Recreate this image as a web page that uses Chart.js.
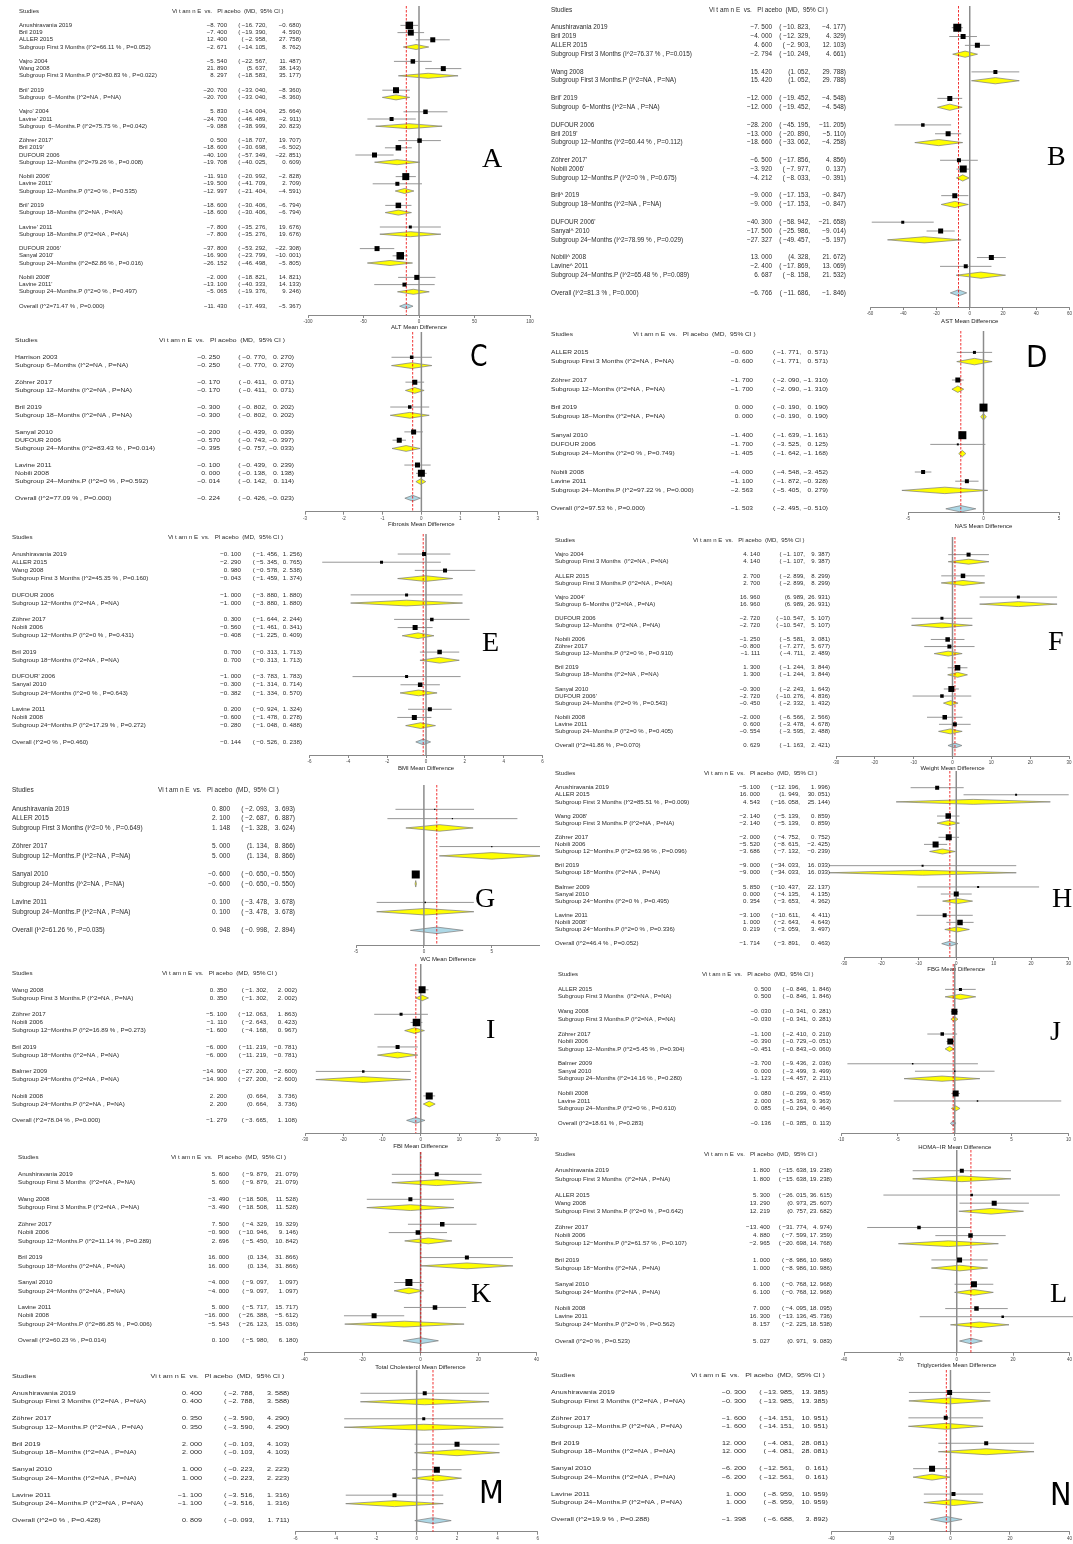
<!DOCTYPE html>
<html><head><meta charset="utf-8">
<script src="https://cdn.jsdelivr.net/npm/chart.js@4.4.1/dist/chart.umd.min.js"></script>
<style>
html,body{margin:0;padding:0;background:#fff;}
body{width:1073px;height:1544px;position:relative;overflow:hidden;}
</style></head><body>
<script>
// ===================== DATA =====================
// Panel A – ALT
const labelsA = ['Anushiravania 2019','Bril 2019','ALLER 2015','Subgroup First 3 Months (I^2=66.11 % , P=0.052)','Vajro 2004','Wang 2008','Subgroup First 3 Months.P (I^2=80.83 % , P=0.022)',"Bril' 2019",'Subgroup  6−Months (I^2=NA , P=NA)',"Vajro' 2004","Lavine' 2011",'Subgroup  6−Months.P (I^2=75.75 % , P=0.042)',"Zöhrer 2017'","Bril 2019'",'DUFOUR 2006','Subgroup 12−Months (I^2=79.26 % , P=0.008)',"Nobili 2006'","Lavine 2011'",'Subgroup 12−Months.P (I^2=0 % , P=0.535)',"Bril' 2019",'Subgroup 18−Months (I^2=NA , P=NA)',"Lavine' 2011",'Subgroup 18−Months.P (I^2=NA , P=NA)',"DUFOUR 2006'","Sanyal 2010'",'Subgroup 24−Months (I^2=82.86 % , P=0.016)',"Nobili 2008'","Lavine 2011'",'Subgroup 24−Months.P (I^2=0 % , P=0.497)','Overall (I^2=71.47 % , P=0.000)'];
const estA = [-8.7,-7.4,12.4,-2.671,-5.54,21.89,8.297,-20.7,-20.7,5.83,-24.7,-9.088,0.5,-18.6,-40.1,-19.708,-11.91,-19.5,-12.997,-18.6,-18.6,-7.8,-7.8,-37.8,-16.9,-26.152,-2,-13.1,-5.065,-11.43];
const lowA = [-16.72,-19.39,-2.958,-14.105,-22.567,5.637,-18.583,-33.04,-33.04,-14.004,-46.489,-38.999,-18.707,-30.698,-57.349,-40.025,-20.992,-41.709,-21.404,-30.406,-30.406,-35.276,-35.276,-53.292,-23.799,-46.498,-18.821,-40.333,-19.376,-17.493];
const highA = [-0.68,4.59,27.758,8.762,11.487,38.143,35.177,-8.36,-8.36,25.664,-2.911,20.823,19.707,-6.502,-22.851,0.609,-2.828,2.709,-4.591,-6.794,-6.794,19.676,19.676,-22.308,-10.001,-5.805,14.821,14.133,9.246,-5.367];
const weightA = [7.5,6,5,0,4.5,5,0,6,0,4.5,4,0,4.5,5.5,5,0,7,4,0,5.5,0,3,0,5,7.5,0,5,4,0,0];
const ticksA = [-100,-50,0,50,100];

// Panel B – AST
const labelsB = ['Anushiravania 2019','Bril 2019','ALLER 2015','Subgroup First 3 Months (I^2=76.37 % , P=0.015)','Wang 2008','Subgroup First 3 Months.P (I^2=NA , P=NA)',"Bril' 2019",'Subgroup  6−Months (I^2=NA , P=NA)','DUFOUR 2006',"Bril 2019'",'Subgroup 12−Months (I^2=60.44 % , P=0.112)',"Zöhrer 2017'","Nobili 2006'",'Subgroup 12−Months.P (I^2=0 % , P=0.675)','Bril^ 2019','Subgroup 18−Months (I^2=NA , P=NA)',"DUFOUR 2006'",'Sanyal^ 2010','Subgroup 24−Months (I^2=78.99 % , P=0.029)','Nobili^ 2008','Lavine^ 2011','Subgroup 24−Months.P (I^2=65.48 % , P=0.089)','Overall (I^2=81.3 % , P=0.000)'];
const estB = [-7.5,-4,4.6,-2.794,15.42,15.42,-12,-12,-28.2,-13,-18.66,-6.5,-3.92,-4.212,-9,-9,-40.3,-17.5,-27.327,13,-2.4,6.687,-6.766];
const lowB = [-10.823,-12.329,-2.903,-10.249,1.052,1.052,-19.452,-19.452,-45.195,-20.89,-33.062,-17.856,-7.977,-8.033,-17.153,-17.153,-58.942,-25.986,-49.457,4.328,-17.869,-8.158,-11.686];
const highB = [-4.177,4.329,12.103,4.661,29.788,29.788,-4.548,-4.548,-11.205,-5.11,-4.258,4.856,0.137,-0.391,-0.847,-0.847,-21.658,-9.014,-5.197,21.672,13.069,21.532,-1.846];
const weightB = [8,5,5,0,4,0,5,0,3.5,5,0,4,7,0,5,0,3,5,0,5,4,0,0];
const ticksB = [-60,-40,-20,0,20,40,60];

// Panel C – Fibrosis
const labelsC = ['Harrison 2003','Subgroup 6−Months (I^2=NA , P=NA)','Zöhrer 2017','Subgroup 12−Months (I^2=NA , P=NA)','Bril 2019','Subgroup 18−Months (I^2=NA , P=NA)','Sanyal 2010','DUFOUR 2006','Subgroup 24−Months (I^2=83.43 % , P=0.014)','Lavine 2011','Nobili 2008','Subgroup 24−Months.P (I^2=0 % , P=0.592)','Overall (I^2=77.09 % , P=0.000)'];
const estC = [-0.25,-0.25,-0.17,-0.17,-0.3,-0.3,-0.2,-0.57,-0.395,-0.1,0,-0.014,-0.224];
const lowC = [-0.77,-0.77,-0.411,-0.411,-0.802,-0.802,-0.439,-0.743,-0.757,-0.439,-0.138,-0.142,-0.426];
const highC = [0.27,0.27,0.071,0.071,0.202,0.202,0.039,-0.397,-0.033,0.239,0.138,0.114,-0.023];
const weightC = [3.5,0,5,0,3.5,0,5,5,0,5,7,0,0];
const ticksC = [-3,-2,-1,0,1,2,3];

// Panel D – NAS
const labelsD = ['ALLER 2015','Subgroup First 3 Months (I^2=NA , P=NA)','Zöhrer 2017','Subgroup 12−Months (I^2=NA , P=NA)','Bril 2019','Subgroup 18−Months (I^2=NA , P=NA)','Sanyal 2010','DUFOUR 2006','Subgroup 24−Months (I^2=0 % , P=0.749)','Nobili 2008','Lavine 2011','Subgroup 24−Months.P (I^2=97.22 % , P=0.000)','Overall (I^2=97.53 % , P=0.000)'];
const estD = [-0.6,-0.6,-1.7,-1.7,0,0,-1.4,-1.7,-1.405,-4,-1.1,-2.563,-1.503];
const lowD = [-1.771,-1.771,-2.09,-2.09,-0.19,-0.19,-1.639,-3.525,-1.642,-4.548,-1.872,-5.405,-2.495];
const highD = [0.571,0.571,-1.31,-1.31,0.19,0.19,-1.161,0.125,-1.168,-3.452,-0.328,0.279,-0.51];
const weightD = [3,0,5,0,8,0,8,2,0,4,4,0,0];
const ticksD = [-5,0,5];

// Panel E – BMI
const labelsE = ['Anushiravania 2019','ALLER 2015','Wang 2008','Subgroup First 3 Months (I^2=45.35 % , P=0.160)','DUFOUR 2006','Subgroup 12−Months (I^2=NA , P=NA)','Zöhrer 2017','Nobili 2006','Subgroup 12−Months.P (I^2=0 % , P=0.431)','Bril 2019','Subgroup 18−Months (I^2=NA , P=NA)',"DUFOUR' 2006",'Sanyal 2010','Subgroup 24−Months (I^2=0 % , P=0.643)','Lavine 2011','Nobili 2008','Subgroup 24−Months.P (I^2=17.29 % , P=0.272)','Overall (I^2=0 % , P=0.460)'];
const estE = [-0.1,-2.29,0.98,-0.043,-1,-1,0.3,-0.56,-0.408,0.7,0.7,-1,-0.3,-0.382,0.2,-0.6,-0.28,-0.144];
const lowE = [-1.456,-5.345,-0.578,-1.459,-3.88,-3.88,-1.644,-1.461,-1.225,-0.313,-0.313,-3.783,-1.314,-1.334,-0.924,-1.478,-1.048,-0.526];
const highE = [1.256,0.765,2.538,1.374,1.88,1.88,2.244,0.341,0.409,1.713,1.713,1.783,0.714,0.57,1.324,0.278,0.488,0.238];
const weightE = [4,3,4,0,3,0,3.5,5,0,4.5,0,3,4.5,0,4,5,0,0];
const ticksE = [-6,-4,-2,0,2,4,6];

// Panel F – Weight
const labelsF = ['Vajro 2004','Subgroup First 3 Months  (I^2=NA , P=NA)','ALLER 2015','Subgroup First 3 Months.P (I^2=NA , P=NA)',"Vajro 2004'",'Subgroup 6−Months (I^2=NA , P=NA)','DUFOUR 2006','Subgroup 12−Months  (I^2=NA , P=NA)','Nobili 2006','Zöhrer 2017','Subgroup 12−Months.P (I^2=0 % , P=0.910)','Bril 2019','Subgroup 18−Months (I^2=NA , P=NA)','Sanyal 2010',"DUFOUR 2006'",'Subgroup 24−Months (I^2=0 % , P=0.543)','Nobili 2008','Lavine 2011','Subgroup 24−Months.P (I^2=0 % , P=0.405)','Overall (I^2=41.86 % , P=0.070)'];
const estF = [4.14,4.14,2.7,2.7,16.96,16.96,-2.72,-2.72,-1.25,-0.8,-1.111,1.3,1.3,-0.3,-2.72,-0.45,-2,0.6,-0.554,0.629];
const lowF = [-1.107,-1.107,-2.899,-2.899,6.989,6.989,-10.547,-10.547,-5.581,-7.277,-4.711,-1.244,-1.244,-2.243,-10.276,-2.332,-6.566,-3.478,-3.595,-1.163];
const highF = [9.387,9.387,8.299,8.299,26.931,26.931,5.107,5.107,3.081,5.677,2.489,3.844,3.844,1.643,4.836,1.432,2.566,4.678,2.488,2.421];
const weightF = [4,0,4.5,0,3,0,3,0,4.5,4,0,5.5,0,6,3.5,0,4.5,4,0,0];
const ticksF = [-30,-20,-10,0,10,20,30];

// Panel G – WC
const labelsG = ['Anushiravania 2019','ALLER 2015','Subgroup First 3 Months (I^2=0 % , P=0.649)','Zöhrer 2017','Subgroup 12−Months.P (I^2=NA , P=NA)','Sanyal 2010','Subgroup 24−Months (I^2=NA , P=NA)','Lavine 2011','Subgroup 24−Months.P (I^2=NA , P=NA)','Overall (I^2=61.26 % , P=0.035)'];
const estG = [0.8,2.1,1.148,5,5,-0.6,-0.6,0.1,0.1,0.948];
const lowG = [-2.093,-2.687,-1.328,1.134,1.134,-0.65,-0.65,-3.478,-3.478,-0.998];
const highG = [3.693,6.887,3.624,8.866,8.866,-0.55,-0.55,3.678,3.678,2.894];
const weightG = [1.2,1.2,0,1.2,0,8,0,1.5,0,0];
const ticksG = [-5,0,5];

// Panel H – FBG
const labelsH = ['Anushiravania 2019','ALLER 2015','Subgroup First 3 Months (I^2=85.51 % , P=0.009)',"Wang 2008'",'Subgroup First 3 Months.P (I^2=NA , P=NA)','Zöhrer 2017','Nobili 2006','Subgroup 12−Months.P (I^2=63.96 % , P=0.096)','Bril 2019','Subgroup 18−Months (I^2=NA , P=NA)','Balmer 2009','Sanyal 2010','Subgroup 24−Months (I^2=0 % , P=0.495)','Lavine 2011',"Nobili 2008'",'Subgroup 24−Months.P (I^2=0 % , P=0.336)','Overall (I^2=46.4 % , P=0.052)'];
const estH = [-5.1,16,4.543,-2.14,-2.14,-2,-5.52,-3.686,-9,-9,5.85,0,0.354,-3.1,1,0.219,-1.714];
const lowH = [-12.196,1.949,-16.058,-5.139,-5.139,-4.752,-8.615,-7.132,-34.033,-34.033,-10.437,-4.135,-3.653,-10.611,-2.643,-3.059,-3.891];
const highH = [1.996,30.051,25.144,0.859,0.859,0.752,-2.425,-0.239,16.033,16.033,22.137,4.135,4.362,4.411,4.643,3.497,0.463];
const weightH = [4,2,0,5.5,0,6,6,0,2,0,2,5,0,4,5.5,0,0];
const ticksH = [-30,-20,-10,0,10,20,30];

// Panel I – FBI
const labelsI = ['Wang 2008','Subgroup First 3 Months.P (I^2=NA , P=NA)','Zöhrer 2017','Nobili 2006','Subgroup 12−Months.P (I^2=16.89 % , P=0.273)','Bril 2019','Subgroup 18−Months (I^2=NA , P=NA)','Balmer 2009','Subgroup 24−Months (I^2=NA , P=NA)','Nobili 2008','Subgroup 24−Months.P (I^2=NA , P=NA)','Overall (I^2=78.04 % , P=0.000)'];
const estI = [0.35,0.35,-5.1,-1.11,-1.6,-6,-6,-14.9,-14.9,2.2,2.2,-1.279];
const lowI = [-1.302,-1.302,-12.063,-2.643,-4.168,-11.219,-11.219,-27.2,-27.2,0.664,0.664,-3.665];
const highI = [2.002,2.002,1.863,0.423,0.967,-0.781,-0.781,-2.6,-2.6,3.736,3.736,1.108];
const weightI = [7,0,3,7.5,0,4,0,2.5,0,7,0,0];
const ticksI = [-30,-20,-10,0,10,20,30];

// Panel J – HOMA-IR
const labelsJ = ['ALLER 2015','Subgroup First 3 Months  (I^2=NA , P=NA)','Wang 2008','Subgroup First 3 Months.P (I^2=NA , P=NA)','Zöhrer 2017','Nobili 2006','Subgroup 12−Months.P (I^2=5.45 % , P=0.304)','Balmer 2009','Sanyal 2010','Subgroup 24−Months (I^2=14.16 % , P=0.280)','Nobili 2008','Lavine 2011','Subgroup 24−Months.P (I^2=0 % , P=0.610)','Overall (I^2=18.61 % , P=0.283)'];
const estJ = [0.5,0.5,-0.03,-0.03,-1.1,-0.39,-0.451,-3.7,0,-1.123,0.08,2,0.085,-0.136];
const lowJ = [-0.846,-0.846,-0.341,-0.341,-2.41,-0.729,-0.843,-9.436,-3.499,-4.457,-0.299,-5.363,-0.294,-0.385];
const highJ = [1.846,1.846,0.281,0.281,0.21,-0.051,-0.06,2.036,3.499,2.211,0.459,9.363,0.464,0.113];
const weightJ = [3,0,6,0,3.5,6,0,1.5,1.5,0,6,1.5,0,0];
const ticksJ = [-10,-5,0,5,10];

// Panel K – Total Cholesterol
const labelsK = ['Anushiravania 2019','Subgroup First 3 Months  (I^2=NA , P=NA)','Wang 2008','Subgroup First 3 Months.P (I^2=NA , P=NA)','Zöhrer 2017','Nobili 2006','Subgroup 12−Months.P (I^2=11.14 % , P=0.289)','Bril 2019','Subgroup 18−Months (I^2=NA , P=NA)','Sanyal 2010','Subgroup 24−Months (I^2=NA , P=NA)','Lavine 2011','Nobili 2008','Subgroup 24−Months.P (I^2=86.85 % , P=0.006)','Overall (I^2=60.23 % , P=0.014)'];
const estK = [5.6,5.6,-3.49,-3.49,7.5,-0.9,2.696,16,16,-4,-4,5,-16,-5.543,0.1];
const lowK = [-9.879,-9.879,-18.508,-18.508,-4.329,-10.946,-5.45,0.134,0.134,-9.097,-9.097,-5.717,-26.388,-26.123,-5.98];
const highK = [21.079,21.079,11.528,11.528,19.329,9.146,10.842,31.866,31.866,1.097,1.097,15.717,-5.612,15.036,6.18];
const weightK = [4,0,4,0,4.5,4.5,0,4,0,7,0,4.5,5,0,0];
const ticksK = [-40,-20,0,20,40];

// Panel L – Triglycerides
const labelsL = ['Anushiravania 2019','Subgroup First 3 Months  (I^2=NA , P=NA)','ALLER 2015','Wang 2008','Subgroup First 3 Months.P (I^2=0 % , P=0.642)','Zöhrer 2017','Nobili 2006','Subgroup 12−Months.P (I^2=61.57 % , P=0.107)','Bril 2019','Subgroup 18−Months (I^2=NA , P=NA)','Sanyal 2010','Subgroup 24−Months (I^2=NA , P=NA)','Nobili 2008','Lavine 2011','Subgroup 24−Months.P (I^2=0 % , P=0.562)','Overall (I^2=0 % , P=0.523)'];
const estL = [1.8,1.8,5.3,13.29,12.219,-13.4,4.88,-2.965,1,1,6.1,6.1,7,16.3,8.157,5.027];
const lowL = [-15.638,-15.638,-26.015,0.973,0.757,-31.774,-7.599,-20.698,-8.986,-8.986,-0.768,-0.768,-4.095,-13.136,-2.225,0.971];
const highL = [19.238,19.238,36.615,25.607,23.682,4.974,17.359,14.768,10.986,10.986,12.968,12.968,18.095,45.736,18.538,9.083];
const weightL = [4,0,2.5,5,0,3.5,4.5,0,5,0,6,0,4.5,2.5,0,0];
const ticksL = [-40,-20,0,20,40];

// Panel M
const labelsM = ['Anushiravania 2019','Subgroup First 3 Months (I^2=NA , P=NA)','Zöhrer 2017','Subgroup 12−Months.P (I^2=NA , P=NA)','Bril 2019','Subgroup 18−Months (I^2=NA , P=NA)','Sanyal 2010','Subgroup 24−Months (I^2=NA , P=NA)','Lavine 2011','Subgroup 24−Months.P (I^2=NA , P=NA)','Overall (I^2=0 % , P=0.428)'];
const estM = [0.4,0.4,0.35,0.35,2,2,1,1,-1.1,-1.1,0.809];
const lowM = [-2.788,-2.788,-3.59,-3.59,-0.103,-0.103,-0.223,-0.223,-3.516,-3.516,-0.093];
const highM = [3.588,3.588,4.29,4.29,4.103,4.103,2.223,2.223,1.316,1.316,1.711];
const weightM = [4,0,3,0,5,0,6,0,4,0,0];
const ticksM = [-6,-4,-2,0,2,4,6];

// Panel N
const labelsN = ['Anushiravania 2019','Subgroup First 3 Months (I^2=NA , P=NA)','Zöhrer 2017','Subgroup 12−Months.P (I^2=NA , P=NA)','Bril 2019','Subgroup 18−Months (I^2=NA , P=NA)','Sanyal 2010','Subgroup 24−Months (I^2=NA , P=NA)','Lavine 2011','Subgroup 24−Months.P (I^2=NA , P=NA)','Overall (I^2=19.9 % , P=0.288)'];
const estN = [-0.3,-0.3,-1.6,-1.6,12,12,-6.2,-6.2,1,1,-1.398];
const lowN = [-13.985,-13.985,-14.151,-14.151,-4.081,-4.081,-12.561,-12.561,-8.959,-8.959,-6.688];
const highN = [13.385,13.385,10.951,10.951,28.081,28.081,0.161,0.161,10.959,10.959,3.892];
const weightN = [5,0,4,0,4,0,6,0,4,0,0];
const ticksN = [-40,-20,0,20,40];

const header = 'Vi t am n E  vs.   Pl acebo  (MD,  95% CI )';

// ===================== LAYOUT / STYLE =====================
const SANS = '"Liberation Sans", Arial, sans-serif';
const SERIF = '"Liberation Serif", "Times New Roman", serif';
const NARROW = '"Liberation Sans Narrow", "DejaVu Sans Condensed", "Liberation Sans", sans-serif';

function fmt(v){ return (v < 0 ? '−' : '') + Math.abs(v).toFixed(3).replace('.', '. '); }

function buildRows(labels, est, lo, hi, w){
  let row = 2; const rows = [];
  labels.forEach((lab, i) => {
    const kind = lab.startsWith('Overall') ? 'o' : (lab.startsWith('Subgroup') ? 'g' : 's');
    rows.push({lab, kind, est: est[i], lo: lo[i], hi: hi[i], w: w[i], row});
    row += 1; if (kind === 'g') row += 1;
  });
  return rows;
}

function panel(g, labels, est, lo, hi, w, ticks, title){
  const [bx, by, bw, bh] = g.box;
  const cv = document.createElement('canvas');
  cv.width = bw; cv.height = bh;
  cv.style.cssText = `position:absolute;left:${bx}px;top:${by}px;width:${bw}px;height:${bh}px;`;
  document.body.appendChild(cv);
  const rows = buildRows(labels, est, lo, hi, w);
  const studies = rows.filter(r => r.kind === 's');
  const overall = rows.find(r => r.kind === 'o');
  const yMin = (g.pt - g.r0) / g.pitch, yMax = (g.pb - g.r0) / g.pitch;
  const tf = 6, half = tf * 1.2 / 2;
  const axH = title ? (g.titleY + half - g.pb) : 14;
  const sx = g.sx || 1;

  const plugin = {
    id: 'forest' + g.letter,
    beforeDatasetsDraw(chart){
      const ctx = chart.ctx, xs = chart.scales.x, ys = chart.scales.y, ca = chart.chartArea;
      ctx.save();
      ctx.strokeStyle = '#8a8a8a'; ctx.lineWidth = 0.9;
      studies.forEach(r => {
        const y = ys.getPixelForValue(r.row);
        ctx.beginPath(); ctx.moveTo(xs.getPixelForValue(r.lo), y); ctx.lineTo(xs.getPixelForValue(r.hi), y); ctx.stroke();
      });
      rows.filter(r => r.kind !== 's').forEach(r => {
        const y = ys.getPixelForValue(r.row);
        const hh = Math.abs(ys.getPixelForValue(r.row + 0.35) - y);
        const xl = xs.getPixelForValue(r.lo), xe = xs.getPixelForValue(r.est), xr = xs.getPixelForValue(r.hi);
        ctx.beginPath(); ctx.moveTo(xl, y); ctx.lineTo(xe, y - hh); ctx.lineTo(xr, y); ctx.lineTo(xe, y + hh); ctx.closePath();
        ctx.fillStyle = r.kind === 'o' ? '#add8e6' : '#ffff00'; ctx.fill();
        ctx.strokeStyle = '#7a7a7a'; ctx.lineWidth = 0.7; ctx.stroke();
      });
      const x0 = xs.getPixelForValue(0);
      ctx.strokeStyle = '#8c8c8c'; ctx.lineWidth = 1.5;
      ctx.beginPath(); ctx.moveTo(x0, ca.top); ctx.lineTo(x0, ca.bottom); ctx.stroke();
      const xo = xs.getPixelForValue(overall.est);
      ctx.strokeStyle = '#ee0000'; ctx.lineWidth = 0.8; ctx.setLineDash([2.5, 1.5]);
      ctx.beginPath(); ctx.moveTo(xo, ca.top); ctx.lineTo(xo, ca.bottom); ctx.stroke();
      ctx.restore();
    },
    afterDraw(chart){
      const ctx = chart.ctx, ys = chart.scales.y;
      ctx.save();
      ctx.fillStyle = '#2a2a2a'; ctx.textBaseline = 'middle';
      ctx.font = `${g.font}px ${SANS}`;
      const put = (t, x, y, align) => {
        ctx.textAlign = align;
        ctx.save(); ctx.translate(x - bx, y); ctx.scale(sx, 1); ctx.fillText(t, 0, 0); ctx.restore();
      };
      const yh = ys.getPixelForValue(0);
      put('Studies', g.nameX, yh, 'left');
      put(header, g.headX, yh, 'left');
      rows.forEach(r => {
        const y = ys.getPixelForValue(r.row);
        put(r.lab, g.nameX, y, 'left');
        put(fmt(r.est), g.estR, y, 'right');
        put('(' + (r.lo < 0 ? ' ' : '') + fmt(r.lo) + ',', g.loR, y, 'right');
        put(fmt(r.hi) + ')', g.hiR, y, 'right');
      });
      ctx.textBaseline = 'alphabetic'; ctx.textAlign = 'left'; ctx.fillStyle = '#000';
      if (g.narrow){
        ctx.font = `${g.lsize}px ${NARROW}`;
        ctx.save(); ctx.translate(g.lx - bx, g.ly - by); ctx.scale(g.lsx || 1, 1); ctx.fillText(g.letter, 0, 0); ctx.restore();
      } else {
        ctx.font = `${g.lsize}px ${SERIF}`;
        ctx.fillText(g.letter, g.lx - bx, g.ly - by);
      }
      ctx.restore();
    }
  };

  new Chart(cv, {
    type: 'scatter',
    data: { datasets: [{
      data: studies.map(r => ({x: r.est, y: r.row})),
      pointStyle: 'rect',
      pointRadius: c => studies[c.dataIndex] ? studies[c.dataIndex].w * 0.7071 : 0,
      pointHoverRadius: c => studies[c.dataIndex] ? studies[c.dataIndex].w * 0.7071 : 0,
      backgroundColor: '#000', borderWidth: 0
    }]},
    options: {
      responsive: false, animation: false, events: [], devicePixelRatio: 1,
      layout: { autoPadding: false, padding: { left: g.pl - bx, right: bx + bw - g.pr, top: g.pt - by, bottom: by + bh - g.pb - axH } },
      plugins: { legend: {display: false}, tooltip: {enabled: false} },
      scales: {
        x: {
          type: 'linear', min: g.xmin, max: g.xmax,
          afterBuildTicks: s => { s.ticks = ticks.map(v => ({value: v})); },
          afterFit: s => { s.height = axH; },
          grid: { display: true, drawOnChartArea: false, drawTicks: true, tickLength: 3, color: '#555', lineWidth: 0.7 },
          border: { display: true, color: '#555', width: 0.7 },
          ticks: { font: {size: 4.5, family: SANS}, color: '#444', padding: 1, maxRotation: 0, autoSkip: false },
          title: { display: !!title, text: title || '', font: {size: tf, family: SANS}, color: '#222', padding: 0 }
        },
        y: { type: 'linear', display: false, reverse: true, min: yMin, max: yMax }
      }
    },
    plugins: [plugin]
  });
}

const G = {
  A: {letter:'A', box:[0,0,540,334], xmin:-100, xmax:100, pl:308, pr:530, pt:6, pb:315, r0:11, pitch:7.2, titleY:327, nameX:19, headX:172, estR:227, loR:267, hiR:301, font:6, lx:482, ly:167, lsize:28},
  B: {letter:'B', box:[536,0,537,334], xmin:-60, xmax:60, pl:870, pr:1072, pt:6, pb:307, r0:10, pitch:8.84, titleY:321, nameX:551, headX:709, estR:772, loR:810, hiR:846, font:6.4, lx:1047, ly:165, lsize:28},
  C: {letter:'C', box:[0,330,540,200], xmin:-3, xmax:3, pl:305, pr:540, pt:332, pb:511.7, r0:340.7, pitch:8.29, titleY:524, nameX:15, headX:159, estR:220, loR:267, hiR:294, font:5.9, sx:1.15, narrow:true, lx:470, ly:366, lsize:31, lsx:0.9},
  D: {letter:'D', box:[536,330,537,200], xmin:-5, xmax:5, pl:908, pr:1059, pt:331, pb:512, r0:334, pitch:9.2, titleY:526, nameX:551, headX:633, estR:753, loR:801, hiR:828, font:5.9, sx:1.12, narrow:true, lx:1026, ly:367, lsize:31, lsx:1},
  E: {letter:'E', box:[0,530,545,245], xmin:-6, xmax:6, pl:309.5, pr:542.5, pt:534, pb:755, r0:537.7, pitch:8.17, titleY:768, nameX:12, headX:168, estR:241, loR:279, hiR:302, font:6.2, lx:482, ly:651, lsize:28},
  F: {letter:'F', box:[536,530,537,245], xmin:-30, xmax:30, pl:836, pr:1069, pt:537, pb:756, r0:540.5, pitch:7.07, titleY:768, nameX:555, headX:693, estR:760, loR:805, hiR:830, font:6, lx:1048, ly:650, lsize:28},
  G: {letter:'G', box:[0,775,540,195], xmin:-5, xmax:8.55, pl:356, pr:540, pt:785, pb:945, r0:790.7, pitch:9.31, titleY:959, nameX:12, headX:158, estR:230, loR:269, hiR:295, font:6.5, lx:475, ly:907, lsize:28},
  H: {letter:'H', box:[536,770,537,205], xmin:-30, xmax:30, pl:844, pr:1068.5, pt:771, pb:957, r0:773.5, pitch:7.09, titleY:969, nameX:555, headX:704, estR:760, loR:800, hiR:830, font:6.1, lx:1052, ly:907, lsize:28},
  I: {letter:'I', box:[0,962,540,190], xmin:-30, xmax:30, pl:305, pr:537, pt:964, pb:1133, r0:973.5, pitch:8.16, titleY:1146, nameX:12, headX:162, estR:227, loR:268, hiR:297, font:6.2, lx:486, ly:1038, lsize:28},
  J: {letter:'J', box:[536,962,537,190], xmin:-10, xmax:10, pl:841, pr:1068.5, pt:964, pb:1133, r0:974.5, pitch:7.44, titleY:1147, nameX:558, headX:702, estR:771, loR:808, hiR:831, font:6, lx:1050, ly:1040, lsize:28},
  K: {letter:'K', box:[0,1150,540,225], xmin:-40, xmax:40, pl:304.5, pr:537, pt:1152, pb:1352.7, r0:1157.7, pitch:8.32, titleY:1367, nameX:18, headX:171, estR:229, loR:268.6, hiR:298, font:6.2, lx:471, ly:1302, lsize:28},
  L: {letter:'L', box:[536,1150,537,225], xmin:-40, xmax:40, pl:844, pr:1071, pt:1150, pb:1352.7, r0:1154.5, pitch:8.11, titleY:1365, nameX:555, headX:704, estR:770, loR:808, hiR:832, font:6.1, lx:1050, ly:1302, lsize:28},
  M: {letter:'M', box:[0,1365,540,200], xmin:-6, xmax:6, pl:295.6, pr:539, pt:1370, pb:1531.7, r0:1376.3, pitch:8.49, titleY:null, nameX:12, headX:150.5, estR:202, loR:254.6, hiR:289.5, font:6, sx:1.2, narrow:true, lx:479, ly:1503, lsize:32, lsx:1},
  N: {letter:'N', box:[536,1365,537,200], xmin:-40, xmax:40, pl:831.5, pr:1071, pt:1370, pb:1531.7, r0:1375.5, pitch:8.47, titleY:null, nameX:551, headX:691, estR:746, loR:794, hiR:828, font:6, sx:1.2, narrow:true, lx:1050, ly:1505, lsize:32, lsx:1}
};

panel(G.A, labelsA, estA, lowA, highA, weightA, ticksA, 'ALT Mean Difference');
panel(G.B, labelsB, estB, lowB, highB, weightB, ticksB, 'AST Mean Difference');
panel(G.C, labelsC, estC, lowC, highC, weightC, ticksC, 'Fibrosis Mean Difference');
panel(G.D, labelsD, estD, lowD, highD, weightD, ticksD, 'NAS Mean Difference');
panel(G.E, labelsE, estE, lowE, highE, weightE, ticksE, 'BMI Mean Difference');
panel(G.F, labelsF, estF, lowF, highF, weightF, ticksF, 'Weight Mean Difference');
panel(G.G, labelsG, estG, lowG, highG, weightG, ticksG, 'WC Mean Difference');
panel(G.H, labelsH, estH, lowH, highH, weightH, ticksH, 'FBG Mean Difference');
panel(G.I, labelsI, estI, lowI, highI, weightI, ticksI, 'FBI Mean Difference');
panel(G.J, labelsJ, estJ, lowJ, highJ, weightJ, ticksJ, 'HOMA−IR Mean Difference');
panel(G.K, labelsK, estK, lowK, highK, weightK, ticksK, 'Total Cholesterol Mean Difference');
panel(G.L, labelsL, estL, lowL, highL, weightL, ticksL, 'Triglycerides Mean Difference');
panel(G.M, labelsM, estM, lowM, highM, weightM, ticksM, null);
panel(G.N, labelsN, estN, lowN, highN, weightN, ticksN, null);
</script>
</body></html>
